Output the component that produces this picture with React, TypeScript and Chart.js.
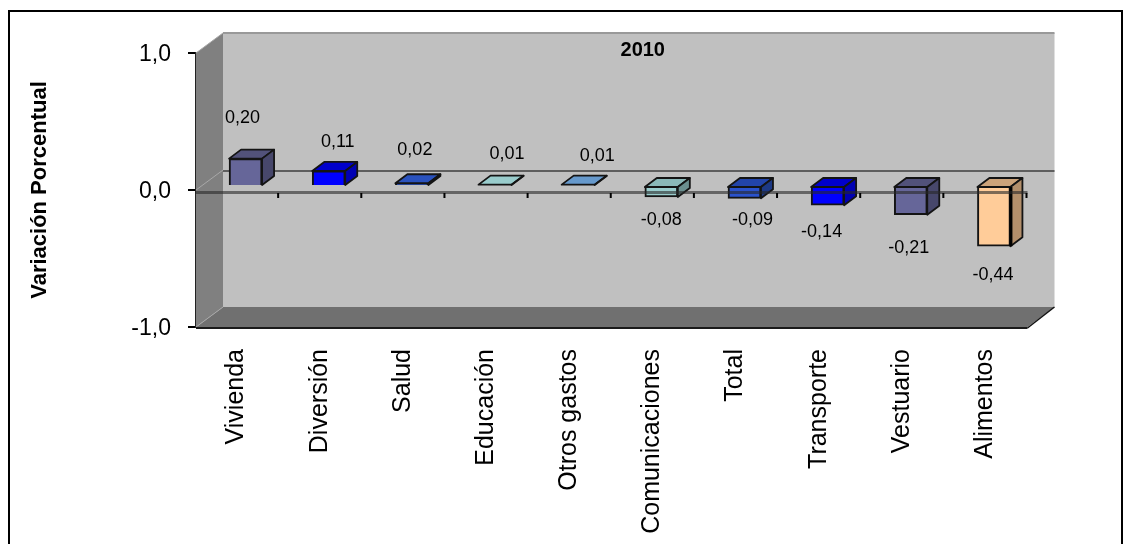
import React, { useEffect, useRef } from "react";
import { Chart, registerables } from "chart.js";

Chart.register(...registerables);

const categories = ["Vivienda", "Diversión", "Salud", "Educación", "Otros gastos", "Comunicaciones", "Total", "Transporte", "Vestuario", "Alimentos"];
const values = [0.2, 0.11, 0.02, 0.01, 0.01, -0.08, -0.09, -0.14, -0.21, -0.44];
const faceColors = ["#666699", "#0000FF", "#2A52BE", "#99CCCC", "#6699CC", "#99CCCC", "#2A52CC", "#0000FF", "#666699", "#FFCC99"];
const topColors = ["#52527A", "#0000CC", "#2A52BE", "#99CCCC", "#6699CC", "#8AB8B8", "#2244AA", "#0000CC", "#52527A", "#CCA37A"];
const sideColors = ["#47476B", "#0000B3", "#1D3985", "#6B8F8F", "#476B8F", "#6B8F8F", "#1D3985", "#0000B3", "#47476B", "#B38F6B"];
// Hand-placed label shifts (x, y) from each bar's end, as in the reference
const labelShift = [[5, -45], [17, -33], [11, -37], [20, -35], [27, -33], [8, 19], [16, 18], [2, 23], [6, 29], [7, 25]];
const chartTitle = "2010";
const yTitle = "Variación Porcentual";

const DX = 27, DY = -20;     // depth of the walls
const BX = 8, BY = -4;       // bars stand inside the depth
const BDX = 12, BDY = -9;    // depth of a bar

const poly = (ctx: CanvasRenderingContext2D, pts: number[][], fill: string | null, stroke?: string, lw = 1) => {
  ctx.beginPath();
  pts.forEach((p, i) => (i ? ctx.lineTo(p[0], p[1]) : ctx.moveTo(p[0], p[1])));
  ctx.closePath();
  if (fill) { ctx.fillStyle = fill; ctx.fill(); }
  if (stroke) { ctx.strokeStyle = stroke; ctx.lineWidth = lw; ctx.lineJoin = "round"; ctx.stroke(); }
};

const scene = {
  id: "scene",
  beforeDraw(chart: any) {
    const { ctx } = chart;
    ctx.save();
    ctx.fillStyle = "#FFFFFF";
    ctx.fillRect(0, 0, chart.width, chart.height);
    ctx.strokeStyle = "#000000";
    ctx.lineWidth = 2;
    ctx.strokeRect(9, 11, 1113, 560);
    ctx.restore();
  },
  beforeDatasetsDraw(chart: any) {
    const { ctx, chartArea: a, scales } = chart;
    const y0 = scales.y.getPixelForValue(0);
    ctx.save();
    poly(ctx, [[a.left + DX, a.top + DY], [a.right + DX, a.top + DY], [a.right + DX, a.bottom + DY], [a.left + DX, a.bottom + DY]], "#C0C0C0");
    poly(ctx, [[a.left, a.top], [a.left + DX, a.top + DY], [a.left + DX, a.bottom + DY], [a.left, a.bottom]], "#808080");
    poly(ctx, [[a.left, a.bottom], [a.left + DX, a.bottom + DY], [a.right + DX, a.bottom + DY], [a.right, a.bottom]], "#707070");
    ctx.fillStyle = "#999999";
    ctx.fillRect(a.left + DX, a.top + DY - 1, a.width, 2);
    ctx.fillStyle = "#5E5E5E";
    ctx.fillRect(a.left + DX, y0 + DY, a.width, 2);
    ctx.strokeStyle = "#A8A8A8";
    ctx.lineWidth = 1;
    [a.top, y0, a.bottom].forEach((v) => {
      ctx.beginPath();
      ctx.moveTo(a.left, v);
      ctx.lineTo(a.left + DX, v + DY);
      ctx.stroke();
    });
    ctx.fillStyle = "#1A1A1A";
    ctx.fillRect(a.left, a.bottom, a.width, 2);
    ctx.strokeStyle = "#111111";
    ctx.lineWidth = 1.5;
    ctx.beginPath();
    ctx.moveTo(a.right, a.bottom + 1);
    ctx.lineTo(a.right + DX, a.bottom + DY);
    ctx.stroke();
    ctx.restore();
  },
  beforeDatasetDraw(chart: any) {
    chart.ctx.save();
    chart.ctx.translate(BX, BY);
  },
  afterDatasetDraw(chart: any, args: any) {
    const { ctx } = chart;
    ctx.restore();
    ctx.save();
    args.meta.data.forEach((bar: any, i: number) => {
      const l = bar.x - bar.width / 2 + BX, r = bar.x + bar.width / 2 + BX;
      const t = Math.min(bar.y, bar.base) + BY, b = Math.max(bar.y, bar.base) + BY;
      poly(ctx, [[l, t], [l + BDX, t + BDY], [r + BDX, t + BDY], [r, t]], topColors[i], "#141414", 1.8);
      poly(ctx, [[r, t], [r + BDX, t + BDY], [r + BDX, b + BDY], [r, b]], sideColors[i], "#141414", 1.8);
      if (i === values.length - 1) {
        ctx.fillStyle = "#000000";
        ctx.fillRect(r - 1, t, 3, b - t);
      }
    });
    ctx.restore();
  },
  afterDatasetsDraw(chart: any) {
    const { ctx, chartArea: a, scales } = chart;
    const y0 = scales.y.getPixelForValue(0);
    const meta = chart.getDatasetMeta(0);
    ctx.save();
    ctx.fillStyle = "rgba(40,40,40,0.6)";
    ctx.fillRect(a.left, y0 + 1, a.width, 3);
    ctx.fillStyle = "#000000";
    const step = a.width / categories.length;
    categories.forEach((_, i) => ctx.fillRect(a.left + step * (i + 1) - 2, y0 + 3, 2, 5));
    ctx.font = "bold 20px 'Liberation Sans'";
    ctx.textAlign = "center";
    ctx.textBaseline = "middle";
    ctx.fillStyle = "#000000";
    ctx.fillText(chartTitle, a.left + DX + a.width / 2 + 4, a.top - 3);
    ctx.font = "18px 'Liberation Sans'";
    values.forEach((v, i) => {
      const bar = meta.data[i];
      ctx.fillText(v.toFixed(2).replace(".", ","), bar.x + labelShift[i][0], bar.y + labelShift[i][1]);
    });
    ctx.restore();
  },
};

export default function App() {
  const ref = useRef<HTMLCanvasElement>(null);
  useEffect(() => {
    document.body.style.margin = "0";
    const chart = new Chart(ref.current!, {
      type: "bar",
      data: {
        labels: categories,
        datasets: [{
          label: chartTitle,
          data: values,
          backgroundColor: faceColors,
          borderColor: "#141414",
          borderWidth: 2,
          barThickness: 33,
        }],
      },
      options: {
        animation: false,
        responsive: false,
        devicePixelRatio: 1,
        layout: { padding: { left: 0, right: 104.5, top: 53, bottom: 0 } },
        plugins: { legend: { display: false }, title: { display: false }, tooltip: { enabled: false } },
        scales: {
          x: {
            grid: { display: false, drawTicks: false },
            border: { display: false },
            ticks: {
              minRotation: 90, maxRotation: 90, padding: 22, autoSkip: false, color: "#000000", labelOffset: -1,
              font: { family: "Liberation Sans", size: 25 },
            },
            afterFit: (s: any) => { s.height = 217; },
          },
          y: {
            min: -1, max: 1,
            grid: { drawOnChartArea: false, tickLength: 8, color: "#000000", lineWidth: 2 },
            border: { display: true, color: "#222222", width: 3 },
            ticks: {
              stepSize: 1, padding: 17, color: "#000000", labelOffset: 1.5,
              font: { family: "Liberation Sans", size: 23 },
              callback: (v: any) => Number(v).toFixed(1).replace(".", ","),
            },
            title: {
              display: true, text: yTitle, color: "#000000", padding: { top: 27, bottom: 0 },
              font: { family: "Liberation Sans", size: 22, weight: "bold" },
            },
            afterFit: (s: any) => { s.width = 196; },
          },
        },
      },
      plugins: [scene],
    } as any);
    return () => chart.destroy();
  }, []);
  return <canvas ref={ref} width={1132} height={544} style={{ display: "block", width: 1132, height: 544, filter: "blur(0.4px)" }} />;
}
